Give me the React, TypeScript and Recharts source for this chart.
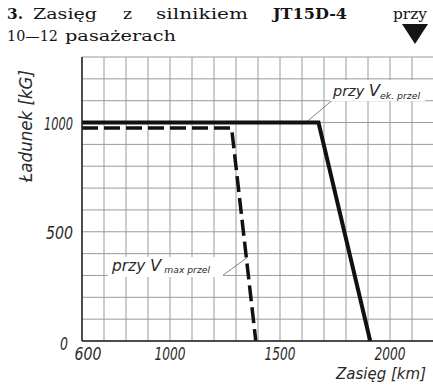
import React from "react";
import { LineChart, Line, XAxis, YAxis, CartesianGrid, ReferenceLine } from "recharts";

// Axis grid ticks (every 100 km / 100 kG) and labelled ticks
const xTicks = [600, 700, 800, 900, 1000, 1100, 1200, 1300, 1400, 1500, 1600, 1700, 1800, 1900, 2000, 2100, 2200];
const yTicks = [0, 100, 200, 300, 400, 500, 600, 700, 800, 900, 1000, 1100, 1200, 1300];
const xLabelValues = [600, 1000, 1500, 2000];
const yLabelValues = [0, 500, 1000];

// Series: przy V ek. przel (solid)
const econRange = [600, 1675, 1910];
const econLoad = [1000, 1000, 0];
// Series: przy V max przel (dashed)
const maxRange = [600, 1280, 1390];
const maxLoad = [975, 975, 0];

const econData = econRange.map((x, i) => ({ x, y: econLoad[i] }));
const maxData = maxRange.map((x, i) => ({ x, y: maxLoad[i] }));

const FONT = "'DejaVu Sans', sans-serif";
const INK = "#2a2a2a";

const XTick = (props: any) => {
  const { x, payload } = props;
  const v = payload.value;
  if (!xLabelValues.includes(v)) return null;
  const s = String(v);
  const len = s.length === 3 ? 27 : 31;
  return (
    <text x={x + (v === 600 ? 6 : 0)} y={360} textAnchor="middle" fontFamily={FONT} fontStyle="italic"
      fontSize={17} fill={INK} textLength={len} lengthAdjust="spacingAndGlyphs">{s}</text>
  );
};

const YTick = (props: any) => {
  const { y, payload } = props;
  const v = payload.value;
  if (!yLabelValues.includes(v)) return null;
  const s = String(v);
  const len = s.length === 4 ? 29 : s.length === 3 ? 27 : 8;
  const isZero = v === 0;
  return (
    <text x={isZero ? 68 : 73} y={y + (isZero ? 9 : 7)} textAnchor="end" fontFamily={FONT} fontStyle="italic"
      fontSize={18} fill={INK} textLength={len} lengthAdjust="spacingAndGlyphs">{s}</text>
  );
};

export default function App() {
  const titleStyle = { fontFamily: "'DejaVu Serif', serif", fontSize: 15, fill: "#151515" } as any;
  return (
    <div style={{ position: "absolute", left: 0, top: 0, width: 433, height: 392, overflow: "hidden", background: "#fff" }}>
      <div style={{ position: "absolute", left: 0, top: 0 }}>
        <LineChart width={440} height={392} margin={{ top: 57, right: 6, bottom: 0, left: 0 }}>
          <CartesianGrid stroke="#9a9a9a" strokeWidth={1} />
          <XAxis type="number" dataKey="x" domain={[600, 2200]} ticks={xTicks} interval={0}
            tick={<XTick />} tickLine={false} height={51} axisLine={{ stroke: "#222", strokeWidth: 1.5 }}
            allowDataOverflow />
          <YAxis type="number" dataKey="y" domain={[0, 1300]} ticks={yTicks} interval={0}
            tick={<YTick />} tickLine={false} width={82} axisLine={{ stroke: "#222", strokeWidth: 1.5 }}
            allowDataOverflow />
          <ReferenceLine segment={[{ x: 1623, y: 1005 }, { x: 1741, y: 1105 }]} stroke="#777" strokeWidth={0.9} />
          <ReferenceLine segment={[{ x: 1241, y: 301 }, { x: 1347, y: 379 }]} stroke="#777" strokeWidth={0.9} />
          <Line data={econData} dataKey="y" type="linear" stroke="#111" strokeWidth={4}
            dot={false} isAnimationActive={false} strokeLinejoin="miter" />
          <Line data={maxData} dataKey="y" type="linear" stroke="#111" strokeWidth={3.5} strokeDasharray="16 6"
            dot={false} isAnimationActive={false} strokeLinejoin="miter" />
        </LineChart>
      </div>
      <svg width={433} height={392} style={{ position: "absolute", left: 0, top: 0, pointerEvents: "none" }}>
        {/* Title */}
        <text x={7} y={19} {...titleStyle} fontWeight="bold" textLength={16} lengthAdjust="spacingAndGlyphs">3.</text>
        <text x={33} y={19} {...titleStyle} textLength={64} lengthAdjust="spacingAndGlyphs">Zasięg</text>
        <text x={123} y={19} {...titleStyle} textLength={9} lengthAdjust="spacingAndGlyphs">z</text>
        <text x={156} y={19} {...titleStyle} textLength={92} lengthAdjust="spacingAndGlyphs">silnikiem</text>
        <text x={273} y={19} {...titleStyle} fontWeight="600" textLength={74} lengthAdjust="spacingAndGlyphs">JT15D-4</text>
        <text x={393} y={19} {...titleStyle} textLength={34} lengthAdjust="spacingAndGlyphs">przy</text>
        <text x={7} y={41} {...titleStyle} textLength={51} lengthAdjust="spacingAndGlyphs">10—12</text>
        <text x={65} y={41} {...titleStyle} textLength={111} lengthAdjust="spacingAndGlyphs">pasażerach</text>
        <polygon points="402,24 428,24 415,44" fill="#151515" />

        {/* Axis titles */}
        <text x={32} y={126} transform="rotate(-90 32 126)" textAnchor="middle" fontFamily={FONT} fontStyle="italic"
          fontSize={18} fill={INK} textLength={112} lengthAdjust="spacingAndGlyphs">Ładunek [kG]</text>
        <text x={336} y={379} fontFamily={FONT} fontStyle="italic" fontSize={15} fill={INK}
          textLength={90} lengthAdjust="spacingAndGlyphs">Zasięg [km]</text>

        {/* Annotation: przy V ek. przel */}
        <rect x={330} y={80} width={95} height={21} fill="#fff" />
        <text x={333} y={96} fontFamily={FONT} fontStyle="italic" fill={INK} textLength={87} lengthAdjust="spacingAndGlyphs">
          <tspan fontSize={14}>przy </tspan>
          <tspan fontSize={16}>V</tspan>
          <tspan fontSize={9} dy={3}>ek. przel</tspan>
        </text>

        {/* Annotation: przy V max przel */}
        <rect x={108} y={257} width={115} height={20} fill="#fff" />
        <text x={112} y={271} fontFamily={FONT} fontStyle="italic" fill={INK} textLength={98} lengthAdjust="spacingAndGlyphs">
          <tspan fontSize={15}>przy </tspan>
          <tspan fontSize={16}>V</tspan>
          <tspan fontSize={9} dy={2}> max przel</tspan>
        </text>
      </svg>
    </div>
  );
}
